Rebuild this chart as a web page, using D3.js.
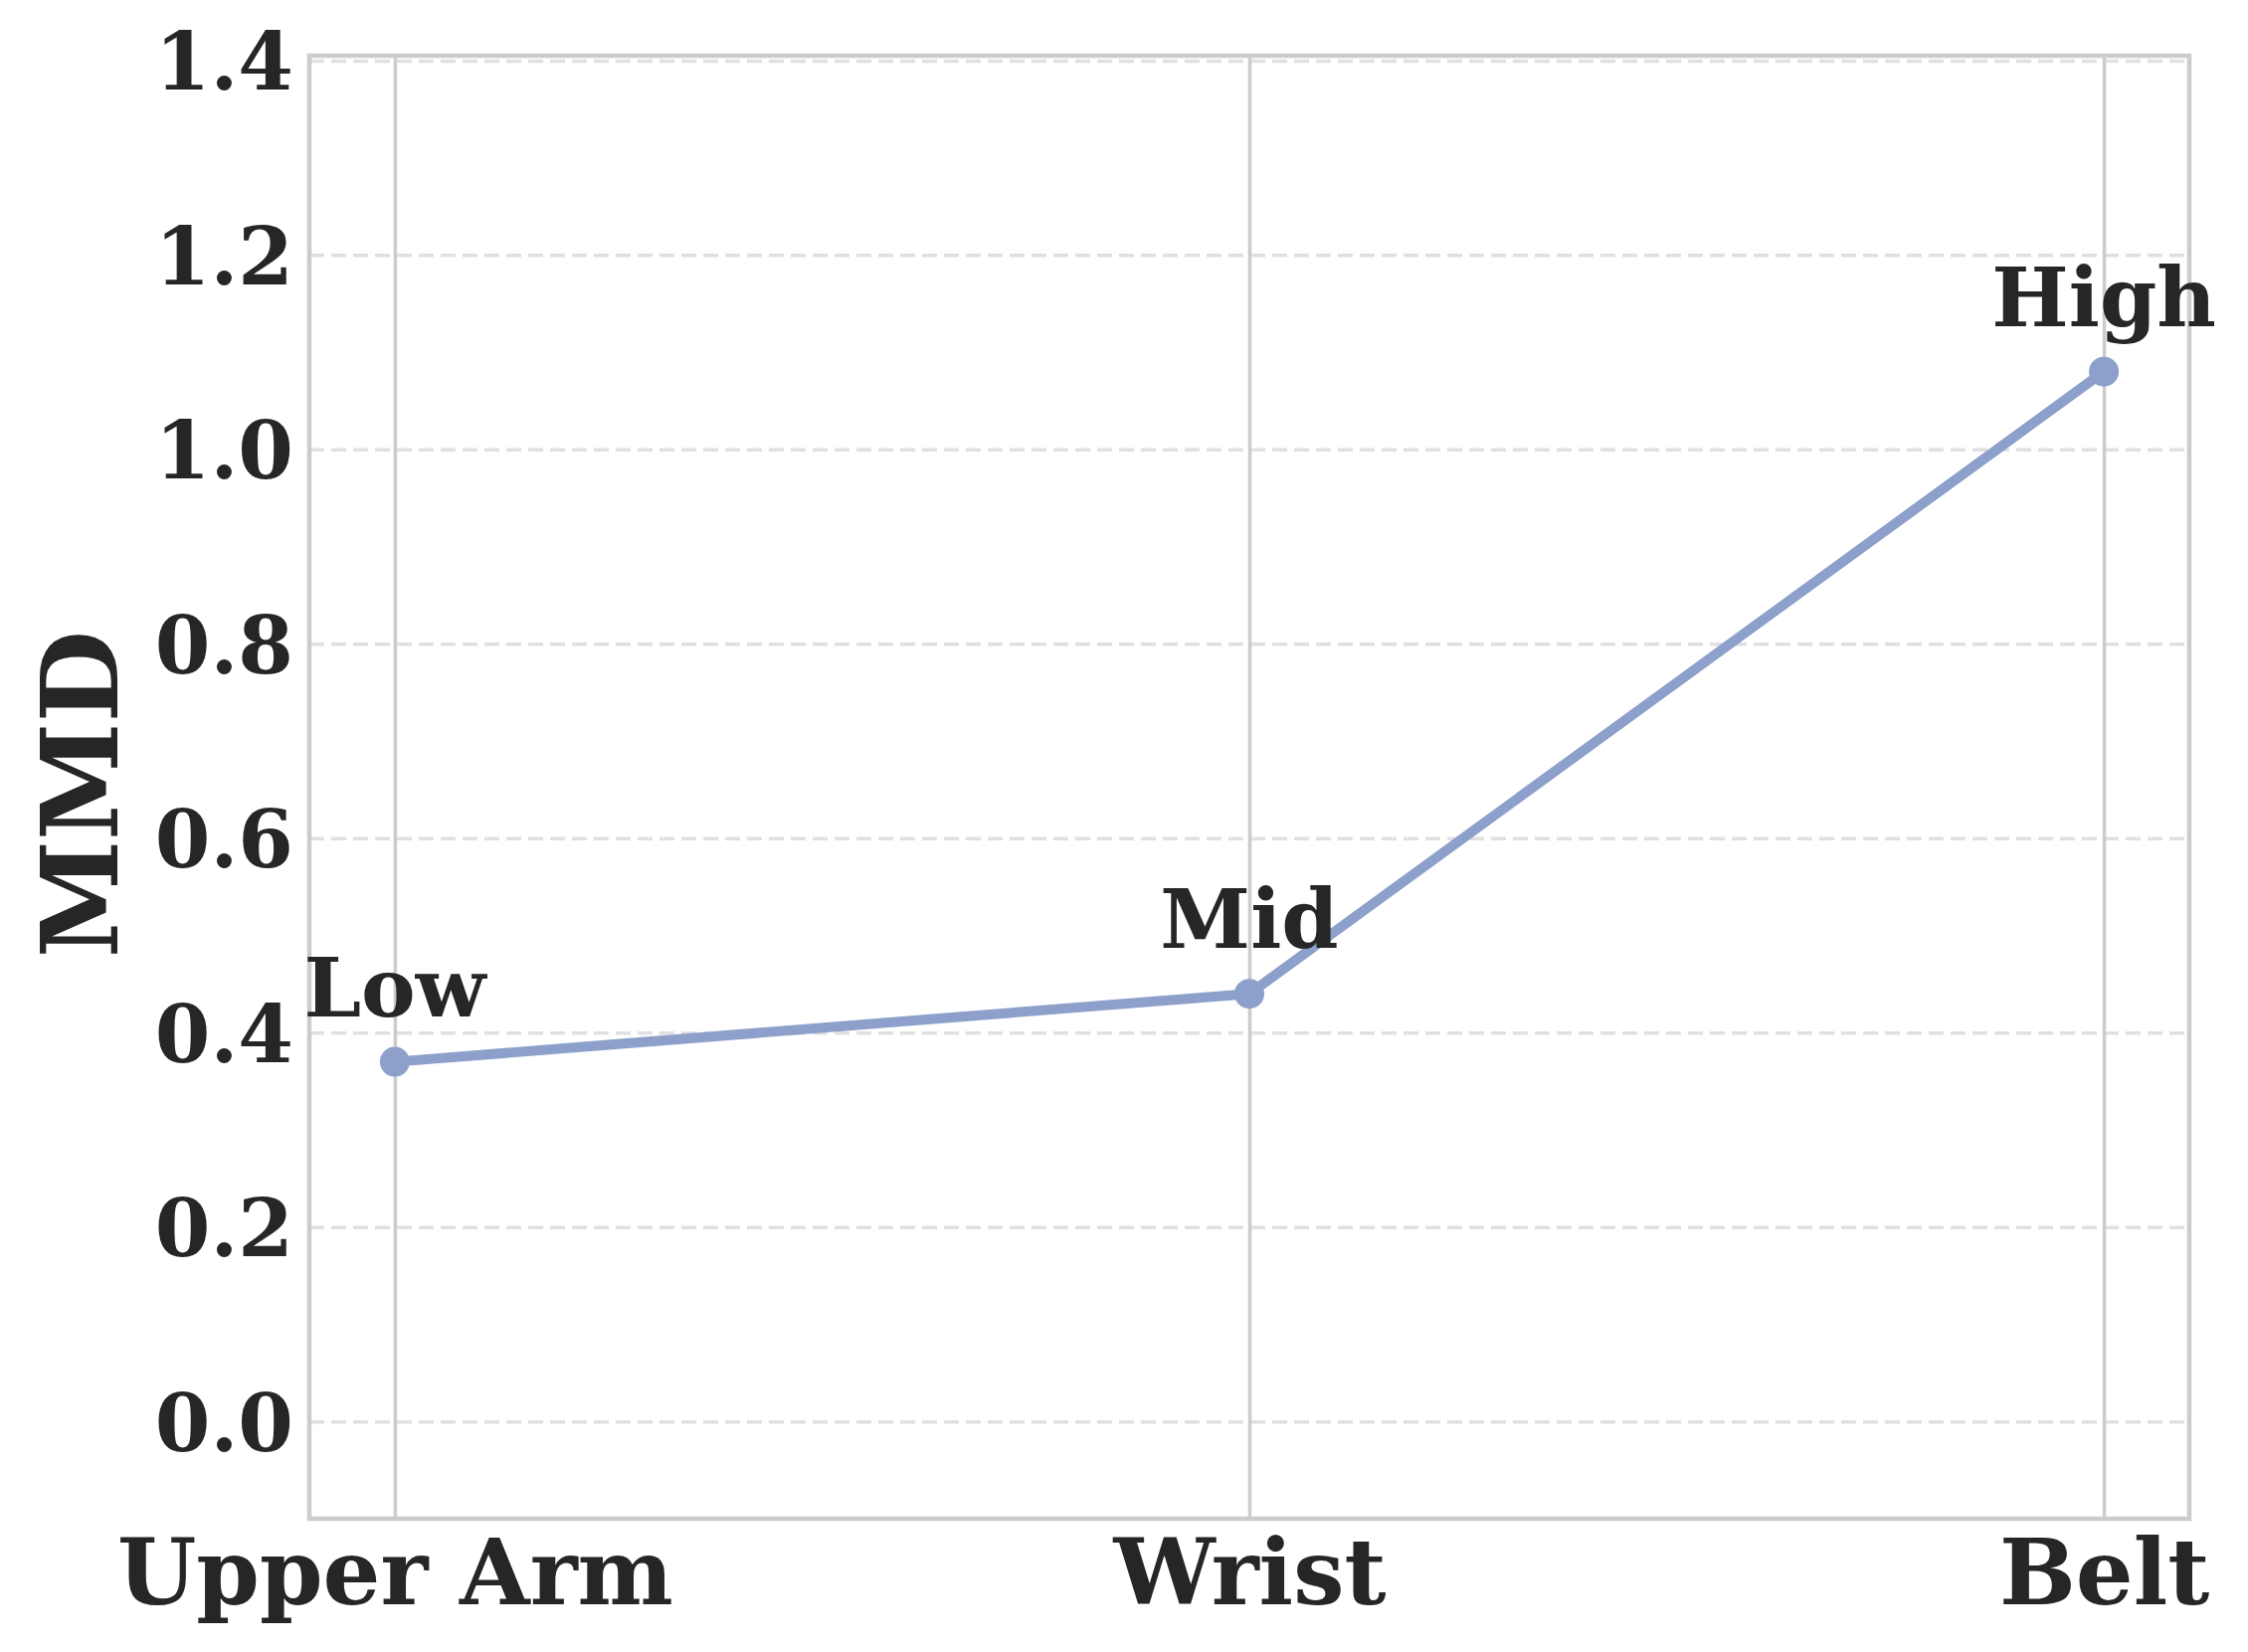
<!DOCTYPE html>
<html>
<head>
<meta charset="utf-8">
<script src="https://cdn.jsdelivr.net/npm/d3@7"></script>
<style>
  body { margin: 0; background: #fff; }
  text { font-family: "DejaVu Serif", serif; font-weight: bold; fill: #262626; }
</style>
</head>
<body>
<div id="chart-area"></div>
<script>
// data
var placements = ["Upper Arm", "Wrist", "Belt"];
var mmdValues = [0.37, 0.44, 1.08];
var levelLabels = ["Low", "Mid", "High"];
var yTicks = [0.0, 0.2, 0.4, 0.6, 0.8, 1.0, 1.2, 1.4];

var margin = {top: 56, right: 59, bottom: 134, left: 311};
var width = 2260 - margin.left - margin.right;
var height = 1661 - margin.top - margin.bottom;

var svg = d3.select("#chart-area").append("svg")
            .attr("width", 2260)
            .attr("height", 1661);

var g = svg.append("g")
           .attr("transform", "translate(" + margin.left + ", " + margin.top + ")");

var x = d3.scaleLinear()
          .domain([-0.1, placements.length - 1 + 0.1])
          .range([0, width]);

var y = d3.scaleLinear()
          .domain([-0.1, 1.405])
          .range([height, 0]);

// horizontal dashed grid
var yGrid = g.append("g")
             .attr("class", "y-grid")
             .call(d3.axisLeft(y).tickValues(yTicks).tickSize(-width).tickFormat(""));
yGrid.select(".domain").remove();
yGrid.selectAll("line")
     .attr("stroke", "#e0e0e0")
     .attr("stroke-width", 3.5)
     .attr("stroke-dasharray", "15,7");

// vertical solid grid
var xGrid = g.append("g")
             .attr("class", "x-grid")
             .attr("transform", "translate(0, " + height + ")")
             .call(d3.axisBottom(x).tickValues(d3.range(placements.length)).tickSize(-height).tickFormat(""));
xGrid.select(".domain").remove();
xGrid.selectAll("line")
     .attr("stroke", "#cccccc")
     .attr("stroke-width", 3.5);

// frame
g.append("rect")
  .attr("x", 0)
  .attr("y", 0)
  .attr("width", width)
  .attr("height", height)
  .attr("fill", "none")
  .attr("stroke", "#cccccc")
  .attr("stroke-width", 4.5);

// y tick labels
var yAxisGroup = g.append("g")
                  .attr("class", "y-axis")
                  .call(d3.axisLeft(y).tickValues(yTicks).tickSize(0).tickPadding(16)
                          .tickFormat(d3.format(".1f")));
yAxisGroup.select(".domain").remove();
yAxisGroup.selectAll("text")
          .attr("font-size", "80px")
          .attr("font-family", "DejaVu Serif")
          .attr("font-weight", "bold")
          .attr("fill", "#262626")
          .attr("dy", "0.36em");

// x tick labels
var xAxisGroup = g.append("g")
                  .attr("class", "x-axis")
                  .attr("transform", "translate(0, " + height + ")")
                  .call(d3.axisBottom(x).tickValues(d3.range(placements.length)).tickSize(0).tickPadding(0)
                          .tickFormat(function(i){ return placements[i]; }));
xAxisGroup.select(".domain").remove();
xAxisGroup.selectAll("text")
          .attr("font-size", "91px")
          .attr("font-family", "DejaVu Serif")
          .attr("font-weight", "bold")
          .attr("fill", "#262626")
          .attr("y", 86)
          .attr("dy", 0);

// y label
g.append("text")
  .attr("class", "y axis-label")
  .attr("x", -(height / 2) - 7)
  .attr("y", -193)
  .attr("font-size", "107px")
  .attr("text-anchor", "middle")
  .attr("transform", "rotate(-90)")
  .text("MMD");

// line
var line = d3.line()
             .x(function(d, i){ return x(i); })
             .y(function(d){ return y(d); });

g.append("path")
  .datum(mmdValues)
  .attr("fill", "none")
  .attr("stroke", "#8da0cb")
  .attr("stroke-width", 10)
  .attr("stroke-linejoin", "round")
  .attr("d", line);

g.selectAll("circle")
  .data(mmdValues)
  .enter().append("circle")
  .attr("cx", function(d, i){ return x(i); })
  .attr("cy", function(d){ return y(d); })
  .attr("r", 15)
  .attr("fill", "#8da0cb");

// level annotations
g.selectAll(".level")
  .data(mmdValues)
  .enter().append("text")
  .attr("class", "level")
  .attr("x", function(d, i){ return x(i); })
  .attr("y", function(d){ return y(d) - 46; })
  .attr("text-anchor", "middle")
  .attr("font-size", "82px")
  .text(function(d, i){ return levelLabels[i]; });
</script>
</body>
</html>
